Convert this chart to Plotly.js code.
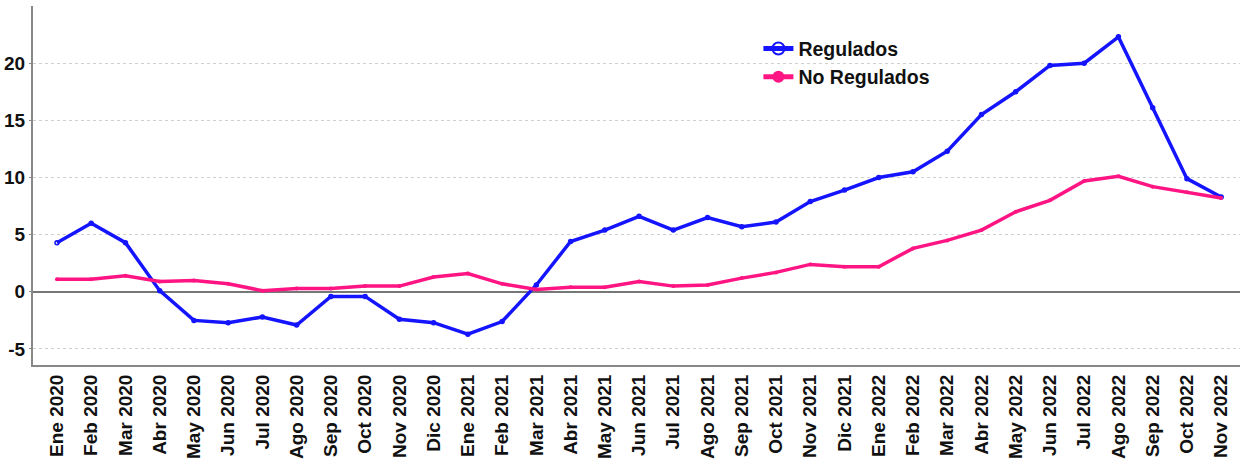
<!DOCTYPE html>
<html>
<head>
<meta charset="utf-8">
<script src="https://cdn.plot.ly/plotly-3.0.1.min.js"></script>
<style>html,body{margin:0;padding:0;background:#fff;}#chart{width:1244px;height:468px;}</style>
</head>
<body>
<div id="chart"></div>
<script>
const months = ["Ene 2020","Feb 2020","Mar 2020","Abr 2020","May 2020","Jun 2020","Jul 2020","Ago 2020","Sep 2020","Oct 2020","Nov 2020","Dic 2020",
"Ene 2021","Feb 2021","Mar 2021","Abr 2021","May 2021","Jun 2021","Jul 2021","Ago 2021","Sep 2021","Oct 2021","Nov 2021","Dic 2021",
"Ene 2022","Feb 2022","Mar 2022","Abr 2022","May 2022","Jun 2022","Jul 2022","Ago 2022","Sep 2022","Oct 2022","Nov 2022"];
const regulados = [4.3,6.0,4.3,0.1,-2.5,-2.7,-2.2,-2.9,-0.4,-0.4,-2.4,-2.7,
-3.7,-2.6,0.6,4.4,5.4,6.6,5.4,6.5,5.7,6.1,7.9,8.9,
10.0,10.5,12.3,15.5,17.5,19.8,20.0,22.3,16.1,9.9,8.3];
const noRegulados = [1.1,1.1,1.4,0.9,1.0,0.7,0.1,0.3,0.3,0.5,0.5,1.3,
1.6,0.7,0.2,0.4,0.4,0.9,0.5,0.6,1.2,1.7,2.4,2.2,
2.2,3.8,4.5,5.4,7.0,8.0,9.7,10.1,9.2,8.7,8.2];
const yTicks = [-5,0,5,10,15,20];
const yTickText = yTicks.map(v => String(v));

const regSymbols = months.map((m, i) => i === 0 ? "circle-open" : "circle");

const traces = [
  {x: months, y: regulados, name: "Regulados", type: "scatter", mode: "lines+markers",
   line: {color: "#1414ff", width: 3.5},
   marker: {color: "#1414ff", size: 4, symbol: regSymbols, line: {color: "#1414ff", width: 1.5}}},
  {x: months, y: noRegulados, name: "No Regulados", type: "scatter", mode: "lines+markers",
   line: {color: "#ff1483", width: 3.5}, marker: {color: "#ff1483", size: 4}}
];
const layout = {
  width: 1244, height: 468,
  margin: {l: 33, r: 4, t: 6, b: 103},
  paper_bgcolor: "#fff", plot_bgcolor: "#fff",
  font: {family: "Liberation Sans, Arial, sans-serif", color: "#111", size: 19},
  showlegend: true,
  legend: {x: 0.601, y: 0.935, xanchor: "left", yanchor: "top", bgcolor: "rgba(0,0,0,0)",
    font: {size: 19.5, color: "#111", weight: "bold"}, itemsizing: "constant"},
  xaxis: {type: "category", range: [-0.7, 34.55], tickangle: -90, showgrid: false,
    showline: true, linecolor: "#888", linewidth: 2, ticks: "", zeroline: false,
    tickfont: {size: 19, color: "#111", weight: "bold"}},
  yaxis: {range: [-6.4, 25], tickvals: yTicks, ticktext: yTickText, showgrid: true, gridcolor: "#cfcfcf", griddash: "dot", gridwidth: 1,
    showline: true, linecolor: "#888", linewidth: 2, ticks: "outside", ticklen: 2, tickcolor: "#888",
    zeroline: true, zerolinecolor: "#777", zerolinewidth: 2,
    tickfont: {size: 19, color: "#111", weight: "bold"}}
};
Plotly.newPlot("chart", traces, layout, {displayModeBar: false, staticPlot: true});
</script>
</body>
</html>
